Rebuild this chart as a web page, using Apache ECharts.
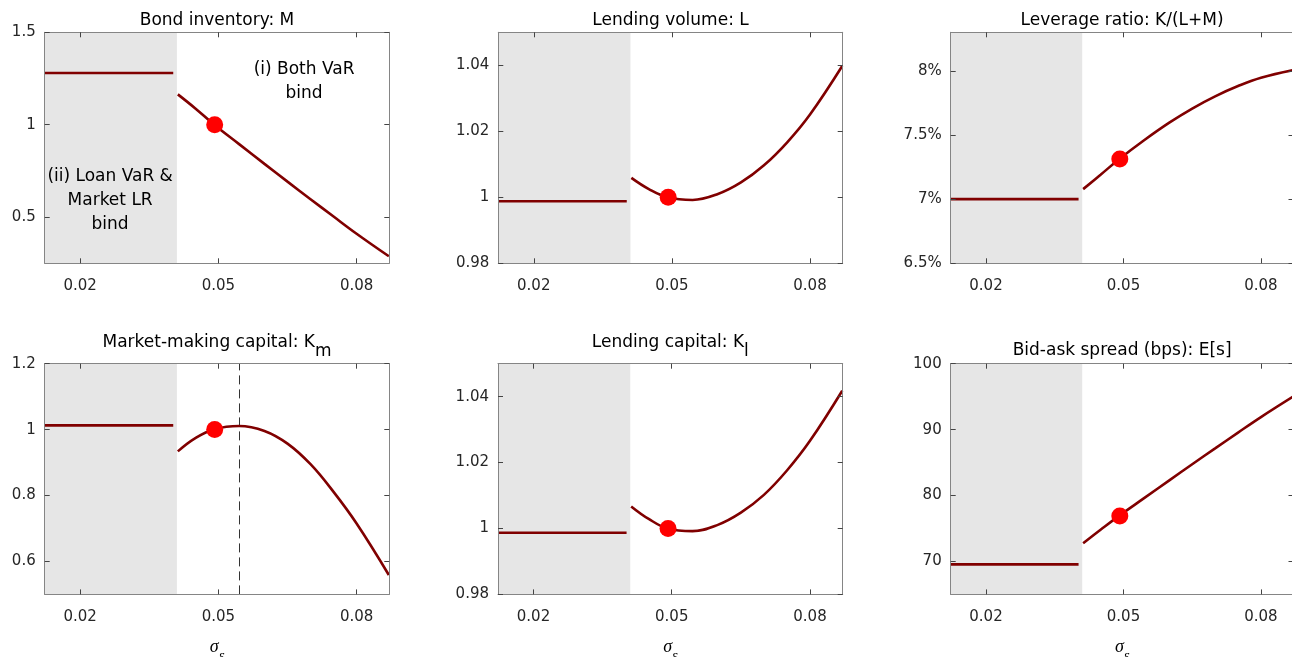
<!DOCTYPE html>
<html><head><meta charset="utf-8">
<script src="https://cdn.jsdelivr.net/npm/echarts@6/dist/echarts.min.js"></script>
<style>html,body{margin:0;padding:0;background:#fff}#c{width:1292px;height:657px}</style>
</head><body><div id="c"></div>
<script>
// ---------------- data ----------------
const xTicks = [0.02, 0.05, 0.08];
const sigmaRange = [0.0123, 0.0871];
const sigmaFlat = [0.0123, 0.0402];
const sigmaCurve = [0.0412, 0.045, 0.0491, 0.0545, 0.06, 0.065, 0.07, 0.075, 0.08, 0.087];
const sigmaBase = 0.0492;
const regionIIEnd = 0.041;
const kmPeakSigma = 0.0545;

const titleTexts = ['Bond inventory: M', 'Lending volume: L', 'Leverage ratio: K/(L+M)',
                    'Market-making capital: K', 'Lending capital: K', 'Bid-ask spread (bps): E[s]'];
const titleSubs = ['', '', '', 'm', 'l', ''];

const bondFlat = 1.28;
const bondCurve = [1.164, 1.088, 1.0, 0.895, 0.788, 0.692, 0.597, 0.503, 0.410, 0.288];
const bondBase = 1.0;
const bondRange = [0.25, 1.5];
const bondTicks = [0.5, 1, 1.5];

const lendFlat = 0.9988;
const lendCurve = [1.0059, 1.0025, 1.0, 0.9992, 1.0010, 1.0045, 1.0097, 1.0166, 1.0251, 1.0398];
const lendBase = 1.0;
const lendRange = [0.98, 1.05];
const lendTicks = [0.98, 1, 1.02, 1.04];

const levFlat = 7.0;
const levCurve = [7.078, 7.19, 7.313, 7.459, 7.596, 7.706, 7.801, 7.881, 7.946, 8.005];
const levBase = 7.313;
const levRange = [6.5, 8.3];
const levTicks = [6.5, 7, 7.5, 8];

const kmFlat = 1.013;
const kmCurve = [0.934, 0.974, 1.001, 1.011, 0.996, 0.9575, 0.895, 0.811, 0.715, 0.559];
const kmBase = 1.0;
const kmRange = [0.5, 1.2];
const kmTicks = [0.6, 0.8, 1, 1.2];

const klFlat = 0.9987;
const klCurve = [1.0067, 1.0029, 1.0, 0.9992, 1.0011, 1.0048, 1.0102, 1.0176, 1.0266, 1.0418];
const klBase = 1.0;
const klRange = [0.98, 1.05];
const klTicks = [0.98, 1, 1.02, 1.04];

const spreadFlat = 69.55;
const spreadCurve = [72.75, 74.8, 76.95, 79.6, 82.3, 84.75, 87.15, 89.55, 91.9, 95.0];
const spreadBase = 76.9;
const spreadRange = [65, 100];
const spreadTicks = [70, 80, 90, 100];

const annoTexts = ['(i) Both VaR\nbind', '(ii) Loan VaR &\nMarket LR\nbind'];
const annoAt = [[0.0686, 1.232], [0.0265, 0.587]];

// ---------------- layout / style ----------------
const FONT = '"DejaVu Sans", "Liberation Sans", sans-serif';
const SERIF = '"Liberation Serif", "DejaVu Serif", serif';
const LINE_COLOR = '#800000';
const AXIS_COLOR = '#858585';
const TICK_COLOR = '#444';
const LABEL_COLOR = '#262626';

const grids = [
  {left: 44.7, top: 32.3, width: 344.6, height: 231},
  {left: 498.3, top: 32.3, width: 344.4, height: 231},
  {left: 950.7, top: 32.3, width: 342.8, height: 231},
  {left: 44.7, top: 363.7, width: 344.6, height: 230.7},
  {left: 498.0, top: 363.7, width: 344.7, height: 230.7},
  {left: 950.7, top: 363.7, width: 342.8, height: 230.7}
];

const panels = [
  {flat: bondFlat, curve: bondCurve, base: bondBase, range: bondRange, ticks: bondTicks, suffix: ''},
  {flat: lendFlat, curve: lendCurve, base: lendBase, range: lendRange, ticks: lendTicks, suffix: ''},
  {flat: levFlat, curve: levCurve, base: levBase, range: levRange, ticks: levTicks, suffix: '%'},
  {flat: kmFlat, curve: kmCurve, base: kmBase, range: kmRange, ticks: kmTicks, suffix: ''},
  {flat: klFlat, curve: klCurve, base: klBase, range: klRange, ticks: klTicks, suffix: ''},
  {flat: spreadFlat, curve: spreadCurve, base: spreadBase, range: spreadRange, ticks: spreadTicks, suffix: ''}
];

const titleTops = [12, 12, 12, 325.5, 325.5, 342.5];

const option = {
  animation: false,
  backgroundColor: '#fff',
  title: [], grid: [], xAxis: [], yAxis: [], series: []
};

panels.forEach((p, i) => {
  const g = grids[i];
  option.grid.push(Object.assign({containLabel: false, outerBoundsMode: 'none', show: false}, g));
  const sub = titleSubs[i];
  option.title.push({
    text: titleTexts[i] + (sub ? '{s|' + sub + '}' : ''),
    left: g.left + g.width / 2,
    top: titleTops[i],
    textAlign: 'center',
    padding: 0,
    textStyle: {
      fontFamily: FONT, fontSize: 17, fontWeight: 'normal', color: '#000',
      rich: {s: {fontFamily: FONT, fontSize: 17, color: '#000', padding: [18, 0, 0, 0]}}
    }
  });
  const lineStyle = {color: AXIS_COLOR, width: 1};
  const tickStyle = {color: TICK_COLOR, width: 1};
  const bottomRow = i >= 3;
  option.xAxis.push({
    gridIndex: i, type: 'value', position: 'bottom', min: sigmaRange[0], max: sigmaRange[1], z: 10,
    axisLine: {show: true, onZero: false, lineStyle},
    axisTick: {show: true, inside: true, length: 5, customValues: xTicks, lineStyle: tickStyle},
    axisLabel: {show: true, customValues: xTicks, formatter: v => String(v), margin: 15,
                fontFamily: FONT, fontSize: 15, color: LABEL_COLOR},
    splitLine: {show: false},
    name: bottomRow ? '{s|σ}{e|ε}' : '',
    nameLocation: 'middle', nameGap: 37,
    nameTextStyle: {rich: {
      s: {fontFamily: SERIF, fontStyle: 'italic', fontSize: 18, color: '#000'},
      e: {fontFamily: SERIF, fontStyle: 'italic', fontSize: 14, color: '#000', padding: [18, 0, 0, 0]}
    }}
  });
  option.xAxis.push({
    gridIndex: i, type: 'value', position: 'top', min: sigmaRange[0], max: sigmaRange[1], z: 10,
    axisLine: {show: true, onZero: false, lineStyle},
    axisTick: {show: true, inside: true, length: 5, customValues: xTicks, lineStyle: tickStyle},
    axisLabel: {show: false}, splitLine: {show: false}
  });
  option.yAxis.push({
    gridIndex: i, type: 'value', position: 'left', min: p.range[0], max: p.range[1], z: 10,
    axisLine: {show: true, onZero: false, lineStyle},
    axisTick: {show: true, inside: true, length: 5, customValues: p.ticks, lineStyle: tickStyle},
    axisLabel: {show: true, customValues: p.ticks, formatter: (v => String(v) + p.suffix), margin: 9,
                fontFamily: FONT, fontSize: 15, color: LABEL_COLOR},
    splitLine: {show: false}
  });
  option.yAxis.push({
    gridIndex: i, type: 'value', position: 'right', min: p.range[0], max: p.range[1], z: 10,
    axisLine: {show: true, onZero: false, lineStyle},
    axisTick: {show: true, inside: true, length: 5, customValues: p.ticks, lineStyle: tickStyle},
    axisLabel: {show: false}, splitLine: {show: false}
  });
  const xi = 2 * i, yi = 2 * i;
  option.series.push({
    type: 'line', xAxisIndex: xi, yAxisIndex: yi, z: 3,
    data: sigmaFlat.map(x => [x, p.flat]),
    showSymbol: false, symbol: 'none',
    lineStyle: {color: LINE_COLOR, width: 2.6},
    markArea: {
      silent: true, z: 1, precision: 5,
      itemStyle: {color: '#e6e6e6', borderWidth: 0},
      data: [[{xAxis: sigmaRange[0]}, {xAxis: regionIIEnd}]]
    }
  });
  const curveSeries = {
    type: 'line', xAxisIndex: xi, yAxisIndex: yi, z: 3,
    data: sigmaCurve.map((x, k) => [x, p.curve[k]]),
    showSymbol: false, symbol: 'none', smooth: 0.4,
    lineStyle: {color: LINE_COLOR, width: 2.6}
  };
  if (i === 3) {
    curveSeries.markLine = {
      silent: true, symbol: ['none', 'none'], z: 2, precision: 5,
      label: {show: false},
      lineStyle: {color: '#333', width: 1, type: [9, 5]},
      data: [{xAxis: kmPeakSigma}]
    };
  }
  option.series.push(curveSeries);
  option.series.push({
    type: 'scatter', xAxisIndex: xi, yAxisIndex: yi, z: 4,
    data: [[sigmaBase, p.base]], symbolSize: 17,
    itemStyle: {color: '#ff0000', opacity: 1}
  });
});

const chart = echarts.init(document.getElementById('c'), null, {renderer: 'canvas'});
chart.setOption(option);

const graphics = annoTexts.map((t, k) => {
  const pt = chart.convertToPixel({gridIndex: 0}, annoAt[k]);
  return {
    type: 'text', x: pt[0], y: pt[1], z: 20,
    style: {text: t, fontFamily: FONT, fontSize: 17, fill: '#000',
            align: 'center', verticalAlign: 'middle', lineHeight: 24}
  };
});
chart.setOption({graphic: graphics});
</script></body></html>
